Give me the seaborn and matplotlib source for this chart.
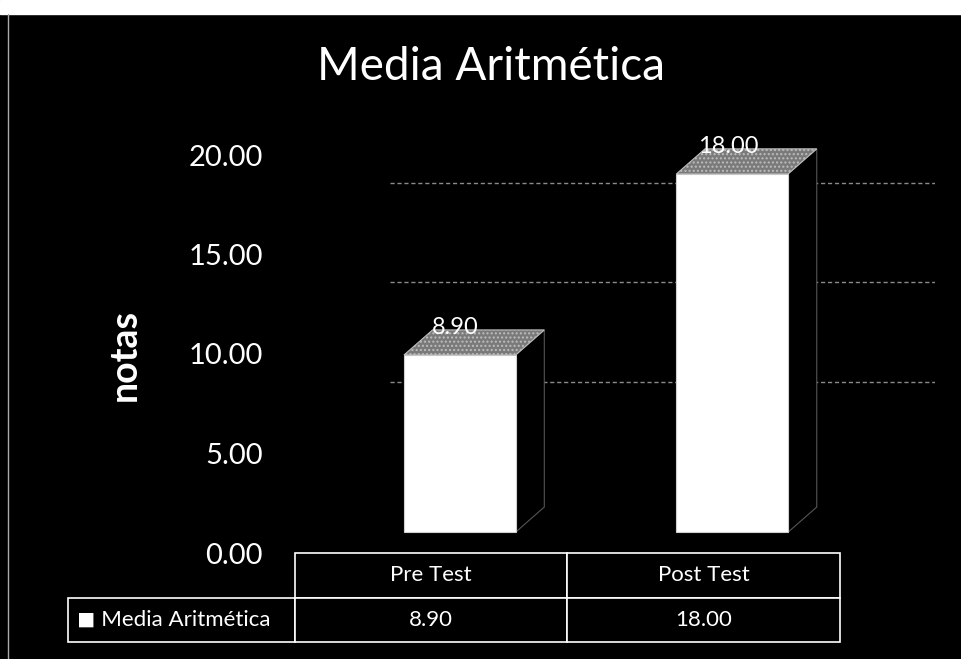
import numpy as np
import pandas as pd
import matplotlib.pyplot as plt
import seaborn as sns
from matplotlib.patches import Polygon, Rectangle
from matplotlib.lines import Line2D

# ----------------------
# DATA
# ----------------------
categorias = ["Pre Test", "Post Test"]
medias = [8.90, 18.00]
serie = "Media Aritmética"
yticks = [0, 5, 10, 15, 20]
grid_vals = [10, 15, 20]

df = pd.DataFrame({"test": categorias, "media": medias})

# ----------------------
# STYLE
# ----------------------
sns.set_theme(style="dark")
plt.rcParams['font.family'] = ['Lato', 'DejaVu Sans']

W, H = 962, 659
AX_W, AX_H = 640, 22 * 19.9
fig = plt.figure(figsize=(W / 100, H / 100), dpi=100, facecolor='black')

# axes: x from 295px to 935px, y=0 at 553px, 19.9 px per unit
ax = fig.add_axes([295 / W, (H - 553) / H, AX_W / W, AX_H / H])
ax.set_facecolor('black')

sns.barplot(data=df, x="test", y="media", color="white", width=0.41,
            saturation=1, edgecolor='#cfcfcf', linewidth=0.8, ax=ax, zorder=3)

# 3D look: shift front faces, add top + side faces
shift = 0.105   # offset of front face to the right (category units)
lift = 1.05     # floor of the front face (y units)
dx, dy = 0.105, 1.26

for p, v in zip(ax.patches, medias):
    x0 = p.get_x() + shift
    w = p.get_width()
    p.set_x(x0)
    p.set_y(lift)
    top = lift + v
    side = Polygon([(x0 + w, lift), (x0 + w + dx, lift + dy),
                    (x0 + w + dx, top + dy), (x0 + w, top)],
                   closed=True, facecolor='black', edgecolor='#555555',
                   lw=0.8, zorder=2)
    cap = Polygon([(x0, top), (x0 + w, top), (x0 + w + dx, top + dy),
                   (x0 + dx, top + dy)],
                  closed=True, facecolor='#7a7a7a', edgecolor='#bdbdbd',
                  lw=0.8, hatch='....', zorder=4)
    ax.add_patch(side)
    ax.add_patch(cap)
    ax.annotate(f"{v:.2f}", (x0 + w / 2 - 0.015, top), xytext=(0, 15),
                textcoords='offset points', ha='center', va='baseline',
                fontsize=17, color='white', zorder=5)

# back wall gridlines (offset by perspective)
for t in grid_vals:
    ax.hlines(t - 1.4, -0.15, 1.849, colors='#8a8a8a',
              linestyles=(0, (3, 2)), lw=1, zorder=1)

ax.set_xlim(-0.5, 1.849)
ax.set_ylim(0, 22)
ax.set_yticks(yticks)
ax.set_yticklabels([f"{t:.2f}" for t in yticks])
ax.set_xticks([])
ax.set_xlabel("")
ax.tick_params(axis='y', colors='white', labelsize=21, length=0, pad=23)
ax.grid(False)
for s in ax.spines.values():
    s.set_visible(False)

ax.set_ylabel("notas", fontsize=27, fontweight='bold', color='white')
ax.yaxis.set_label_coords((142 - 295) / AX_W, (553 - 355) / AX_H)

# ----------------------
# DATA TABLE
# ----------------------
tabla = ax.table(cellText=[[f"{v:.2f}" for v in medias]],
                 rowLabels=["\u25FC " + serie],
                 colLabels=categorias,
                 cellLoc='center', rowLoc='left',
                 bbox=[0, -89 / AX_H, 545 / AX_W, 89 / AX_H])
tabla._autoColumns = []   # keep the fixed width of the label column
tabla.auto_set_font_size(False)
tabla.set_fontsize(16)
for (r, c), cell in tabla.get_celld().items():
    cell.set_width((227 if c == -1 else 272.5) / AX_W)
    cell.set_height(44.5 / AX_H)
    cell.set_facecolor('black')
    cell.set_edgecolor('white')
    cell.set_linewidth(1.2)
    cell.get_text().set_color('white')
    cell.set_clip_on(False)
    if c == -1:
        cell.PAD = 0.04
tabla.set_clip_on(False)

# ----------------------
# TITLE + FRAME
# ----------------------
fig.text(0.51, 1 - 67 / H, serie, ha='center', va='center',
         fontsize=33, color='white')

fig.patches.append(Rectangle((0, 1 - 14 / H), 1, 14 / H,
                             transform=fig.transFigure, color='white'))
fig.lines.append(Line2D([8 / W, 8 / W], [0, 1 - 14 / H],
                        transform=fig.transFigure, color='#aaaaaa', lw=1))

fig.savefig("out.png", dpi=100, facecolor=fig.get_facecolor())
